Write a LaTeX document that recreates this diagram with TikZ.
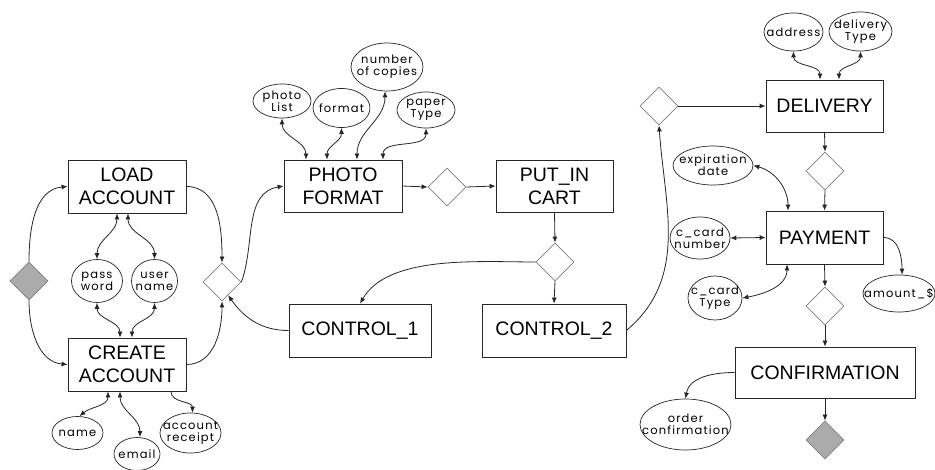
\documentclass[tikz,border=0pt]{standalone}
\usepackage{fontspec}
\setmainfont{Liberation Sans}
\newfontfamily\attrfont[LetterSpace=10]{Poppins}
\usetikzlibrary{shapes.geometric,arrows.meta}
\begin{document}
\begin{tikzpicture}[x=1pt,y=-1pt,
  box/.style={draw=black!85, line width=0.8pt, rectangle, inner sep=0pt, align=center, font=\fontsize{19.5}{23}\selectfont},
  attrlbl/.style={inner sep=0pt, align=center, font=\attrfont\fontsize{11.5}{12}\selectfont},
  attr/.style={draw=black!85, line width=0.7pt, ellipse, inner sep=0pt, label={[attrlbl]center:{#1}}},
  dia/.style={draw=black!50, line width=0.8pt, diamond, minimum width=38pt, minimum height=38pt, inner sep=0pt},
  gdia/.style={dia, fill=black!33},
  ar/.style={draw=black!85, line width=0.8pt, -{Latex[length=6pt,width=5pt]}},
  bi/.style={draw=black!85, line width=0.8pt, {Latex[length=6pt,width=5pt]}-{Latex[length=6pt,width=5pt]}}]
\useasboundingbox[fill=white] (0,0) rectangle (935,470);

% boxes
\node[box, minimum width=118pt, minimum height=53pt] (load) at (127,186.5) {LOAD\\ACCOUNT};
\node[box, minimum width=118pt, minimum height=53pt] (create) at (127,364.5) {CREATE\\ACCOUNT};
\node[box, minimum width=118pt, minimum height=52pt] (photo) at (343,186) {PHOTO\\FORMAT};
\node[box, minimum width=117pt, minimum height=52pt] (cart) at (554.5,186) {PUT\_IN\\CART};
\node[box, minimum width=142pt, minimum height=53pt] (ctrla) at (360,330.5) {CONTROL\_1};
\node[box, minimum width=144pt, minimum height=53pt] (ctrlb) at (554,330.5) {CONTROL\_2};
\node[box, minimum width=117pt, minimum height=52pt] (deliv) at (824.5,106) {DELIVERY};
\node[box, minimum width=117pt, minimum height=53pt] (pay) at (824.5,237.5) {PAYMENT};
\node[box, minimum width=180pt, minimum height=51pt] (conf) at (825,372.5) {CONFIRMATION};

% diamonds
\node[gdia] (gstart) at (29,281) {};
\node[dia] (da) at (222,282) {};
\node[dia] (db) at (447,187) {};
\node[dia] (dc) at (555,262) {};
\node[dia] (dd) at (659,106) {};
\node[dia] (de) at (825,171) {};
\node[dia] (df) at (825,306) {};
\node[gdia] (gend) at (825,440) {};

% attributes
\node[attr={pass\\word}, minimum width=51pt, minimum height=43pt] (pw) at (97,281) {};
\node[attr={user\\name}, minimum width=46pt, minimum height=43pt] (un) at (154.5,281) {};
\node[attr={name}, minimum width=51pt, minimum height=33pt] (nm) at (77.5,433) {};
\node[attr={email}, minimum width=46pt, minimum height=33pt] (em) at (137,454) {};
\node[attr={account\\receipt}, minimum width=61pt, minimum height=40pt] (rc) at (190.5,433) {};
\node[attr={photo\\List}, minimum width=58pt, minimum height=34pt] (pl) at (282,101) {};
\node[attr={format}, minimum width=57pt, minimum height=39pt] (fm) at (341.5,108) {};
\node[attr={number\\of copies}, minimum width=72pt, minimum height=48pt] (nc) at (387,67) {};
\node[attr={paper\\Type}, minimum width=58pt, minimum height=36pt] (pt) at (426,110) {};
\node[attr={address}, minimum width=59pt, minimum height=38pt] (ad) at (793.5,32) {};
\node[attr={delivery\\Type}, minimum width=63pt, minimum height=39pt] (dt) at (860.5,31.5) {};
\node[attr={expiration\\date}, minimum width=80pt, minimum height=39pt] (ex) at (713,165.5) {};
\node[attr={c\_card\\number}, minimum width=60pt, minimum height=42pt] (cn) at (700,238) {};
\node[attr={c\_card\\Type}, minimum width=54pt, minimum height=44pt] (ct) at (715,298) {};
\node[attr={amount\_\$}, minimum width=72pt, minimum height=37pt] (am) at (899,293.5) {};
\node[attr={order\\confirmation}, minimum width=91pt, minimum height=51pt] (oc) at (685.5,424.5) {};

% main flow
\draw[ar] (gstart.north) to[out=90,in=185] (load.west);
\draw[ar] (gstart.south) to[out=-90,in=175] (create.west);
\draw[ar] (load.east) to[out=0,in=90] (da.north);
\draw[ar] (create.east) to[out=0,in=-90] (da.south);
\draw[ar] (da.east) to[out=70,in=190] (photo.west);
\draw[ar] (ctrla.west) to[out=180,in=-55] (da.-65);
\draw[ar] (photo.east) -- (db.west);
\draw[ar] (db.east) -- (cart.west);
\draw[ar] (cart.south) -- (dc.north);
\draw[ar] (dc.south) -- (ctrlb.north);
\draw[ar] (dc.west) to[out=180,in=60,looseness=0.8] (ctrla.north);
\draw[ar] (ctrlb.east) to[out=40,in=-86] (dd.south);
\draw[ar] (dd.east) -- (deliv.west);
\draw[ar] (deliv.south) -- (de.north);
\draw[ar] (de.south) -- (pay.north);
\draw[ar] (pay.south) -- (df.north);
\draw[ar] (df.south) -- (conf.north);
\draw[ar] (conf.south) -- (gend.north);

% attribute links
\draw[bi] (pw.north) to[out=90,in=-90] ([xshift=-10pt]load.south);
\draw[bi] (un.north) to[out=90,in=-90] ([xshift=1pt]load.south);
\draw[bi] (pw.south) to[out=-90,in=90] ([xshift=-7pt]create.north);
\draw[bi] (un.south) to[out=-90,in=90] ([xshift=5pt]create.north);
\draw[bi] ([xshift=-19pt]create.south) to[out=-90,in=40] ([xshift=2pt]nm.north);
\draw[bi] ([xshift=-7pt]create.south) to[out=-90,in=90] ([xshift=3pt]em.north);
\draw[ar] ([xshift=44pt]create.south) to[out=-90,in=90] ([xshift=2pt]rc.north);
\draw[bi] (pl.south) to[out=-90,in=90] ([xshift=-37pt]photo.north);
\draw[bi] (fm.south) to[out=-90,in=90] ([xshift=-16pt]photo.north);
\draw[bi] ([xshift=-2pt]nc.south) to[out=-90,in=90] ([xshift=14pt]photo.north);
\draw[bi] (pt.south) to[out=-90,in=90] ([xshift=40pt]photo.north);
\draw[bi] (ad.south) to[out=-90,in=90] ([xshift=-4.5pt]deliv.north);
\draw[bi] (dt.south) to[out=-90,in=90] ([xshift=14.5pt]deliv.north);
\draw[bi] (ex.east) to[out=-15,in=90] ([xshift=-36.5pt]pay.north);
\draw[bi] (cn.east) -- (pay.west);
\draw[bi] (ct.east) to[out=10,in=-90] ([xshift=-37.5pt]pay.south);
\draw[ar] (pay.east) to[out=0,in=90] ([xshift=3pt]am.north);
\draw[ar] (conf.west) to[out=180,in=80] (oc.north);
\end{tikzpicture}
\end{document}
